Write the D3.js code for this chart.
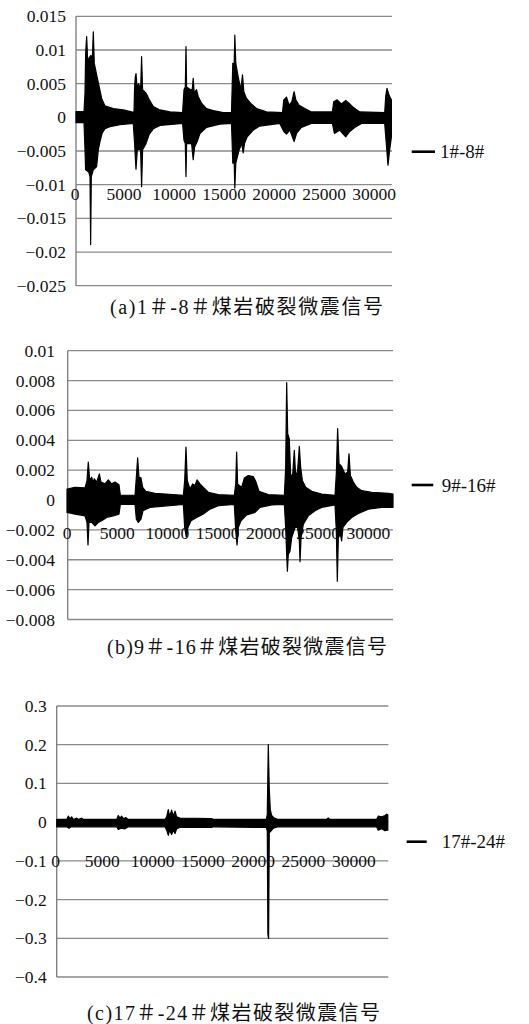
<!DOCTYPE html>
<html><head><meta charset="utf-8">
<script src="https://cdn.jsdelivr.net/npm/d3@7"></script>
<style>body{margin:0;background:#fff}svg{display:block}</style>
</head><body>
<svg id="chart" width="529" height="1024"></svg>
<script>
// ---------------- DATA ----------------
const seriesNames = ["1#-8#", "9#-16#", "17#-24#"];
const captions = ["(a)1＃-8＃煤岩破裂微震信号", "(b)9＃-16＃煤岩破裂微震信号", "(c)17＃-24＃煤岩破裂微震信号"];
const xTickValues = [0, 5000, 10000, 15000, 20000, 25000, 30000];
const xTickLabels = ["0", "5000", "10000", "15000", "20000", "25000", "30000"];

const yTicksA = [0.015, 0.01, 0.005, 0, -0.005, -0.01, -0.015, -0.02, -0.025];
const yLabelsA = ["0.015", "0.01", "0.005", "0", "−0.005", "−0.01", "−0.015", "−0.02", "−0.025"];
const yTicksB = [0.01, 0.008, 0.006, 0.004, 0.002, 0, -0.002, -0.004, -0.006, -0.008];
const yLabelsB = ["0.01", "0.008", "0.006", "0.004", "0.002", "0", "−0.002", "−0.004", "−0.006", "−0.008"];
const yTicksC = [0.3, 0.2, 0.1, 0, -0.1, -0.2, -0.3, -0.4];
const yLabelsC = ["0.3", "0.2", "0.1", "0", "−0.1", "−0.2", "−0.3", "−0.4"];

// signal envelopes: [sample index, amplitude]
const sigAUpper = [[200,0.00084],[1000,0.00084],[1100,0.0036],[1165,0.0095],[1265,0.0120],[1365,0.0085],[1600,0.0090],[1700,0.0092],[1830,0.0085],[1930,0.0127],[2030,0.0080],[2265,0.0063],[2530,0.0045],[2765,0.0028],[3100,0.0017],[3930,0.0013],[4930,0.0011],[5760,0.0008],[6000,0.0007],
 [6060,0.0045],[6130,0.0060],[6200,0.0065],[6300,0.0045],[6460,0.0050],[6660,0.0041],[6760,0.0090],[6860,0.0041],[7200,0.0036],[7530,0.0026],[7930,0.0016],[8600,0.0011],[9600,0.0008],[10860,0.0007],
 [11000,0.0041],[11130,0.0045],[11200,0.0105],[11260,0.0045],[11660,0.0041],[11820,0.0041],[11920,0.0058],[12020,0.0036],[12250,0.0041],[12420,0.0031],[12750,0.0021],[13250,0.0013],[13920,0.0010],[14920,0.0007],[15750,0.0007],
 [15880,0.0080],[16020,0.0080],[16080,0.0122],[16180,0.0080],[16420,0.0060],[16680,0.0041],[16850,0.0063],[16980,0.0038],[17250,0.0028],[17650,0.0021],[18250,0.0013],[19250,0.0008],[20850,0.0007],
 [20980,0.0026],[21250,0.0030],[21510,0.0018],[21780,0.0023],[22010,0.0038],[22180,0.0026],[22510,0.0018],[23080,0.0013],[23740,0.0008],
 [25840,0.0008],[25970,0.0023],[26310,0.0026],[26740,0.0020],[27170,0.0025],[27500,0.0021],[27910,0.0015],[28570,0.0008],[31070,0.0007],
 [31170,0.0031],[31300,0.0043],[31500,0.0033],[31740,0.0026]];
const sigALower = [[200,-0.0008],[1000,-0.0008],[1100,-0.0048],[1165,-0.0078],[1465,-0.0081],[1600,-0.0088],[1665,-0.0189],[1730,-0.0088],[1930,-0.0078],[2265,-0.0073],[2430,-0.0048],[2600,-0.0036],[2800,-0.0024],[3100,-0.0017],[3600,-0.0014],[4600,-0.0011],[5930,-0.0009],
 [6060,-0.0039],[6200,-0.0077],[6330,-0.0048],[6660,-0.0048],[6760,-0.0103],[6860,-0.0048],[7200,-0.0039],[7530,-0.0025],[7930,-0.0017],[8600,-0.0012],[10860,-0.0009],
 [11000,-0.0034],[11130,-0.0039],[11200,-0.0088],[11260,-0.0039],[11760,-0.0039],[11920,-0.0063],[12060,-0.0044],[12320,-0.0036],[12590,-0.0024],[13250,-0.0015],[14590,-0.0010],[15750,-0.0009],
 [15880,-0.0068],[16020,-0.0068],[16080,-0.0105],[16180,-0.0068],[16520,-0.0048],[16780,-0.0039],[16920,-0.0053],[17050,-0.0039],[17320,-0.0029],[17920,-0.0019],[18580,-0.0013],[20580,-0.0009],
 [20980,-0.0021],[21250,-0.0025],[21580,-0.0019],[22010,-0.0036],[22250,-0.0024],[22740,-0.0015],[23740,-0.0009],
 [25840,-0.0009],[26040,-0.0024],[26570,-0.0019],[27170,-0.0029],[27570,-0.0021],[28070,-0.0015],[28740,-0.0009],[31070,-0.0009],
 [31230,-0.0039],[31400,-0.0071],[31570,-0.0048],[31740,-0.0029]];

const sigBUpper = [[0,0.00074],[800,0.00085],[1790,0.00081],[1990,0.0013],[2120,0.00254],[2260,0.0013],[2450,0.00153],[2590,0.0012],[2720,0.00142],[2950,0.0012],[3220,0.00175],[3380,0.0012],[3780,0.00108],[4110,0.00135],[4440,0.00108],[4780,0.0012],[5170,0.00103],[5310,0.00032],[6770,0.00032],
 [6900,0.00153],[7030,0.00283],[7160,0.00153],[7360,0.00148],[7530,0.00085],[7830,0.00058],[8760,0.00045],[11580,0.00032],
 [11710,0.0013],[11840,0.00355],[11970,0.0013],[12240,0.00074],[12500,0.00108],[12740,0.00097],[12940,0.00135],[13230,0.00108],[13570,0.00085],[14060,0.00052],[15060,0.00036],[16650,0.00032],
 [16790,0.00108],[16880,0.00321],[16980,0.00108],[17380,0.00085],[17650,0.00148],[18040,0.00164],[18540,0.00157],[18810,0.0012],[19110,0.00058],[20030,0.00036],[21630,0.00032],
 [21760,0.0022],[21860,0.00787],[21960,0.00445],[22120,0.00411],[22260,0.00153],[22460,0.00175],[22620,0.00333],[22760,0.00153],[22950,0.00198],[23120,0.0036],[23250,0.0022],[23420,0.0013],[23750,0.00085],[24350,0.00058],[25340,0.0004],[26670,0.00032],
 [26800,0.00175],[26930,0.00479],[27070,0.00243],[27330,0.00225],[27660,0.00175],[27930,0.00187],[28060,0.0031],[28200,0.00164],[28490,0.0012],[28830,0.00085],[29320,0.00063],[30320,0.00052],[31980,0.00045],[32440,0.0004]];
const sigBLower = [[0,-0.00083],[800,-0.00094],[1790,-0.00106],[1990,-0.0015],[2090,-0.00301],[2190,-0.0015],[2450,-0.0015],[2790,-0.00173],[3120,-0.0015],[3450,-0.00139],[3950,-0.00117],[4610,-0.00106],[5170,-0.00094],[5310,-0.0003],[6770,-0.0003],
 [6900,-0.00128],[7100,-0.0015],[7360,-0.00128],[7560,-0.00072],[8260,-0.00049],[11580,-0.0003],
 [11710,-0.00184],[11870,-0.00247],[12040,-0.00184],[12340,-0.00139],[12900,-0.00117],[13570,-0.00094],[14230,-0.00061],[15060,-0.00038],[16650,-0.0003],
 [16790,-0.00207],[16920,-0.00301],[17050,-0.00184],[17310,-0.00139],[17880,-0.00099],[18710,-0.00083],[19210,-0.00049],[20370,-0.00033],[21630,-0.0003],
 [21760,-0.00184],[21860,-0.00364],[21930,-0.00476],[22020,-0.00364],[22190,-0.00342],[22360,-0.00252],[22690,-0.00184],[22950,-0.00184],[23120,-0.00274],[23190,-0.00413],[23290,-0.00252],[23520,-0.00162],[24010,-0.00106],[24680,-0.00072],[25340,-0.00049],[26670,-0.00033],
 [26800,-0.00207],[26900,-0.00544],[27000,-0.00252],[27200,-0.00229],[27330,-0.00274],[27460,-0.00184],[27830,-0.0015],[28330,-0.00117],[28990,-0.0009],[29990,-0.00061],[31310,-0.00049],[32440,-0.00049]];

const sigCUpper = [[470,0.0069],[1460,0.0069],[1620,0.0155],[1790,0.0086],[1950,0.0137],[2120,0.0069],[2450,0.0103],[2620,0.0069],[2950,0.0103],[3110,0.0069],[6430,0.0069],[6590,0.0172],[6760,0.0103],[6920,0.0155],[7120,0.0086],[7320,0.012],[7590,0.0069],
 [11230,0.0069],[11400,0.0137],[11560,0.0326],[11700,0.0137],[11890,0.0309],[12060,0.0155],[12230,0.0283],[12390,0.0137],[12720,0.0103],[15870,0.0094],[16040,0.0069],
 [21300,0.0069],[21400,0.0197],[21500,0.2],[21600,0.0841],[21700,0.0326],[21830,0.0172],[22100,0.0103],[22500,0.0069],
 [27300,0.0069],[27460,0.0112],[27630,0.0069],[32270,0.0069],[32430,0.0155],[32770,0.0137],[33100,0.0172],[33260,0.0206],[33380,0.0189]];
const sigCLower = [[470,-0.012],[1460,-0.012],[1690,-0.0155],[1890,-0.012],[6430,-0.012],[6590,-0.0189],[6860,-0.0155],[7260,-0.0172],[7590,-0.012],
 [11230,-0.012],[11400,-0.0206],[11560,-0.0343],[11700,-0.0206],[11890,-0.0318],[12060,-0.0206],[12230,-0.0292],[12390,-0.0172],[12720,-0.0137],[15870,-0.0137],[16040,-0.012],
 [21300,-0.0137],[21400,-0.0232],[21460,-0.29],[21530,-0.30],[21600,-0.0275],[21760,-0.0232],[22000,-0.0155],[22500,-0.012],
 [32270,-0.012],[32430,-0.0206],[32770,-0.0172],[33100,-0.0223],[33380,-0.0206]];

// ---------------- LAYOUT ----------------
const panels = [
  {upper: sigAUpper, lower: sigALower, yTicks: yTicksA, yLabels: yLabelsA, name: seriesNames[0], caption: captions[0],
   xDomain: [0, 31800], xRange: [74, 392], axisX: 76, right: 392, yRange: [285.7, 16.3],
   xLabelY: 193.5, yLabelX: 66, leg: {x1: 411.7, x2: 435, y: 151.7, tx: 440}, cap: {cx: 246.5, cy: 307, w: 273}},
  {upper: sigBUpper, lower: sigBLower, yTicks: yTicksB, yLabels: yLabelsB, name: seriesNames[1], caption: captions[1],
   xDomain: [0, 32440], xRange: [67, 393], axisX: 67.7, right: 393, yRange: [619.5, 350.7],
   xLabelY: 532.5, yLabelX: 55, leg: {x1: 411.7, x2: 433.3, y: 485, tx: 441.7}, cap: {cx: 247, cy: 647, w: 280}},
  {upper: sigCUpper, lower: sigCLower, yTicks: yTicksC, yLabels: yLabelsC, name: seriesNames[2], caption: captions[2],
   xDomain: [0, 33400], xRange: [52, 388], axisX: 56.7, right: 388.3, yRange: [977, 706],
   xLabelY: 861, yLabelX: 46.7, leg: {x1: 406.7, x2: 426.7, y: 841.7, tx: 441.7}, cap: {cx: 233.5, cy: 1013, w: 293}}
];

const svg = d3.select("#chart");
const numFont = "'Liberation Serif', 'DejaVu Serif', serif";
const capFont = "'Liberation Serif', 'Noto Sans CJK SC', serif";

panels.forEach(p => {
  const x = d3.scaleLinear().domain(p.xDomain).range(p.xRange);
  const yExt = d3.extent(p.yTicks);
  const y = d3.scaleLinear().domain(yExt).range(p.yRange);
  const g = svg.append("g");

  // gridlines
  g.selectAll("line.grid").data(p.yTicks).join("line")
    .attr("x1", p.axisX).attr("x2", p.right)
    .attr("y1", d => y(d)).attr("y2", d => y(d))
    .attr("stroke", "#8a8a8a").attr("stroke-width", 1.3);
  // vertical axis
  g.append("line").attr("x1", p.axisX).attr("x2", p.axisX)
    .attr("y1", y(yExt[1])).attr("y2", y(yExt[0]))
    .attr("stroke", "#7a7a7a").attr("stroke-width", 1.3);

  // y labels
  g.selectAll("text.yl").data(p.yTicks).join("text")
    .attr("x", p.yLabelX).attr("y", d => y(d))
    .attr("text-anchor", "end").attr("dominant-baseline", "central")
    .style("font-family", numFont).style("font-size", "17.5px").attr("fill", "#111")
    .text((d, i) => p.yLabels[i]);

  // x labels
  g.selectAll("text.xl").data(xTickValues).join("text")
    .attr("x", d => Math.max(x(d), p.axisX - 1)).attr("y", p.xLabelY)
    .attr("text-anchor", "middle").attr("dominant-baseline", "central")
    .style("font-family", numFont).style("font-size", "17.5px").attr("fill", "#111")
    .text((d, i) => xTickLabels[i]);

  // signal envelope
  const area = d3.area().x(d => x(d[0])).y0(y(0)).y1(d => y(d[1]));
  g.append("path").attr("d", area(p.upper) + area(p.lower))
    .attr("fill", "#000").attr("stroke", "#000").attr("stroke-width", 1.2)
    .attr("stroke-linejoin", "round");

  // legend
  g.append("line").attr("x1", p.leg.x1).attr("x2", p.leg.x2)
    .attr("y1", p.leg.y).attr("y2", p.leg.y)
    .attr("stroke", "#000").attr("stroke-width", 2.6);
  g.append("text").attr("x", p.leg.tx).attr("y", p.leg.y)
    .attr("dominant-baseline", "central")
    .style("font-family", numFont).style("font-size", "19px").attr("fill", "#111")
    .text(p.name);

  // caption
  g.append("text").attr("x", p.cap.cx).attr("y", p.cap.cy)
    .attr("text-anchor", "middle").attr("dominant-baseline", "central")
    .attr("textLength", p.cap.w).attr("lengthAdjust", "spacing")
    .style("font-family", capFont).style("font-size", "20px").attr("fill", "#111")
    .text(p.caption);
});
</script>
</body></html>
